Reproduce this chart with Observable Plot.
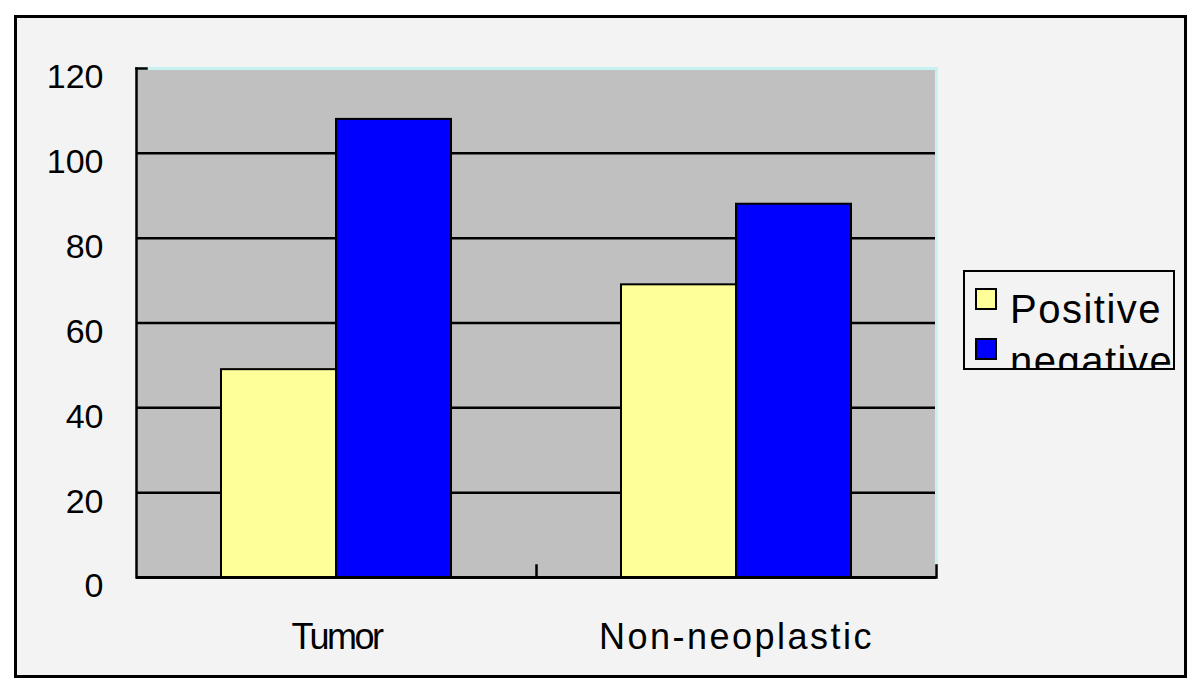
<!DOCTYPE html>
<html>
<head>
<meta charset="utf-8">
<script src="https://cdn.jsdelivr.net/npm/d3@7"></script>
<script src="https://cdn.jsdelivr.net/npm/@observablehq/plot@0.6"></script>
<style>
  body { margin: 0; background: #ffffff; font-family: "Liberation Sans", Arial, sans-serif; }
  #wrap { position: relative; width: 1200px; height: 690px; overflow: hidden; }
  #frame { position: absolute; left: 14px; top: 15px; width: 1167px; height: 657px; border: 3px solid #000; background: #f3f3f3; }
  #chart { position: absolute; left: 0; top: 0; }
  #legend { position: absolute; left: 963px; top: 270px; width: 208px; height: 96px; border: 2px solid #000; background: #f3f3f3; overflow: hidden; }
  .sw { position: absolute; left: 10px; width: 18px; height: 18px; border: 2px solid #000; }
  .lt { position: absolute; left: 45px; font-size: 40px; line-height: 46px; white-space: nowrap; color: #000; letter-spacing: 1.5px; }
</style>
</head>
<body>
<div id="wrap">
  <div id="frame"></div>
  <div id="chart"></div>
  <div id="legend"></div>
</div>
<script>
const categories = ["Tumor", "Non-neoplastic"];
const seriesNames = ["Positive", "negative"];
const positiveValues = [49, 69];
const negativeValues = [108, 88];
const yTicks = [0, 20, 40, 60, 80, 100, 120];
const seriesColors = ["#ffff99", "#0000ff"];
const categorySpacing = {"Tumor": "-2.5px", "Non-neoplastic": "2.5px"};

const data = categories.flatMap((c, i) => [
  {category: c, series: seriesNames[0], value: positiveValues[i]},
  {category: c, series: seriesNames[1], value: negativeValues[i]}
]);

const chart = Plot.plot({
  width: 1200,
  height: 690,
  marginLeft: 135,
  marginRight: 264,
  marginTop: 68,
  marginBottom: 113,
  style: {background: "transparent", fontFamily: "'Liberation Sans', Arial, sans-serif", color: "#000"},
  fx: {domain: categories, padding: 0, label: null},
  x: {domain: seriesNames, paddingInner: 0, paddingOuter: 0.739, axis: null},
  y: {domain: [0, 120], label: null},
  color: {domain: seriesNames, range: seriesColors},
  marks: [
    Plot.frame({fill: "#c0c0c0", shapeRendering: "crispEdges", insetRight: -1}),
    Plot.ruleY(yTicks.slice(1, -1), {stroke: "#000", strokeWidth: 2.5}),
    Plot.ruleY([120], {stroke: "#c8f2f2", strokeWidth: 3}),
    Plot.frame({anchor: "right", fx: "Non-neoplastic", stroke: "#c8f2f2", strokeWidth: 3}),
    Plot.barY(data, {fx: "category", x: "series", y: "value", fill: "series", stroke: "#000", strokeWidth: 2}),
    Plot.frame({anchor: "left", fx: "Tumor", stroke: "#000", strokeWidth: 2.5}),
    Plot.frame({anchor: "left", fx: "Non-neoplastic", stroke: "#000", strokeWidth: 2.5, insetTop: 497}),
    Plot.frame({anchor: "right", fx: "Non-neoplastic", stroke: "#000", strokeWidth: 2.5, insetTop: 497}),
    Plot.frame({anchor: "top", fx: "Tumor", stroke: "#000", strokeWidth: 2.5, insetRight: 390}),
    Plot.ruleY([0], {stroke: "#000", strokeWidth: 3}),
    Plot.axisY({ticks: yTicks, tickSize: 0, tickPadding: 33, fontSize: 34, dy: 9, label: null}),
    Plot.axisFx({anchor: "bottom", tickSize: 0, tickPadding: 46, fontSize: 36, label: null})
  ]
});
document.getElementById("chart").appendChild(chart);

d3.select(chart).selectAll('g[aria-label="fx-axis tick label"] text').each(function() {
  const s = categorySpacing[this.textContent.trim()];
  if (s) this.style.letterSpacing = s;
});

const legend = document.getElementById("legend");
const tops = [16, 66];
const textTops = [14, 66];
seriesNames.forEach((s, i) => {
  const sw = document.createElement("div");
  sw.className = "sw";
  sw.style.top = tops[i] + "px";
  sw.style.background = seriesColors[i];
  legend.appendChild(sw);
  const t = document.createElement("div");
  t.className = "lt";
  t.style.top = textTops[i] + "px";
  t.textContent = s;
  legend.appendChild(t);
});
</script>
</body>
</html>
